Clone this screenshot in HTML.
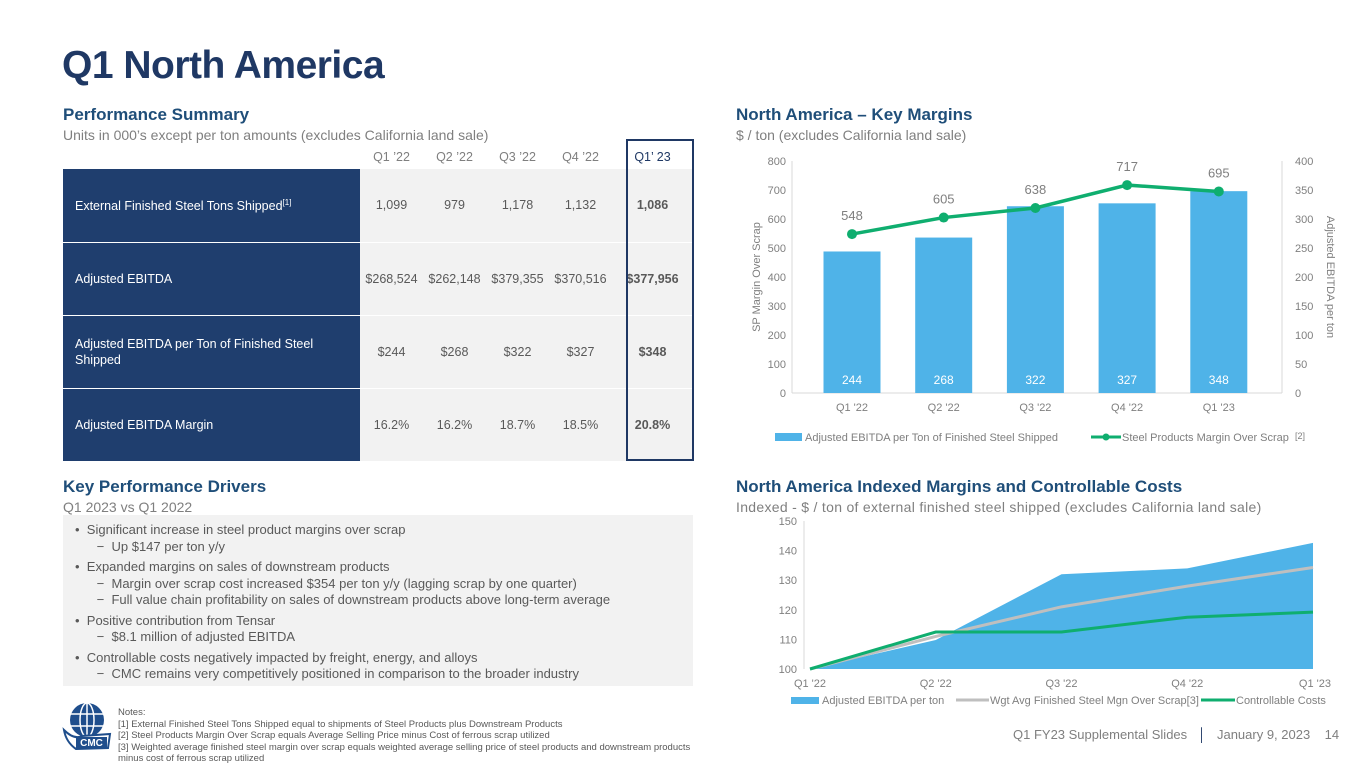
<!DOCTYPE html>
<html><head><meta charset="utf-8"><style>
*{margin:0;padding:0;box-sizing:border-box}
body{width:1365px;height:768px;background:#fff;font-family:"Liberation Sans",sans-serif;position:relative;overflow:hidden;color:#595959}
.abs{position:absolute}
h1{position:absolute;left:62px;top:44px;font-size:39px;font-weight:bold;color:#1f3864;letter-spacing:-0.5px}
.h2{position:absolute;font-size:17px;font-weight:bold;color:#1f4e79}
.sub{position:absolute;font-size:14px;color:#7f7f7f}
table{position:absolute;left:63px;top:145px;border-collapse:collapse;font-size:12.5px;table-layout:fixed;width:630px}
td,th{text-align:center;padding:0}
th{font-weight:normal;color:#7f7f7f;height:24px}
td.lab{background:#1f3e6e;color:#fff;text-align:left;padding-left:12px}
tr.r td{height:73px;border-bottom:1px solid #fff}
td.v{background:#f2f2f2;color:#595959}
td.b{font-weight:bold}
.box{position:absolute;left:63px;top:515px;width:630px;height:171px;background:#f2f2f2;font-size:13px;color:#595959;padding:7px 0 0 12px;line-height:16.5px}
.notes{position:absolute;left:118px;top:707px;font-size:9.5px;color:#595959;line-height:11.5px}
</style></head><body>
<h1>Q1 North America</h1>
<div class="h2" style="left:63px;top:105px">Performance Summary</div>
<div class="sub" style="left:63px;top:127px">Units in 000’s except per ton amounts (excludes California land sale)</div>
<table>
<colgroup><col style="width:297px"><col style="width:63px"><col style="width:63px"><col style="width:63px"><col style="width:63px"><col style="width:81px"></colgroup>
<tr><th></th><th>Q1 ’22</th><th>Q2 ’22</th><th>Q3 ’22</th><th>Q4 ’22</th><th style="color:#1f3864">Q1’ 23</th></tr>
<tr class="r"><td class="lab">External Finished Steel Tons Shipped<sup style="font-size:8px">[1]</sup></td><td class="v">1,099</td><td class="v">979</td><td class="v">1,178</td><td class="v">1,132</td><td class="v b">1,086</td></tr>
<tr class="r"><td class="lab">Adjusted EBITDA</td><td class="v">$268,524</td><td class="v">$262,148</td><td class="v">$379,355</td><td class="v">$370,516</td><td class="v b">$377,956</td></tr>
<tr class="r"><td class="lab" style="line-height:16px">Adjusted EBITDA per Ton of Finished Steel<br>Shipped</td><td class="v">$244</td><td class="v">$268</td><td class="v">$322</td><td class="v">$327</td><td class="v b">$348</td></tr>
<tr class="r"><td class="lab">Adjusted EBITDA Margin</td><td class="v">16.2%</td><td class="v">16.2%</td><td class="v">18.7%</td><td class="v">18.5%</td><td class="v b">20.8%</td></tr>
</table>
<div class="abs" style="left:626px;top:139px;width:68px;height:322px;border:2px solid #1f3864"></div>

<div class="h2" style="left:63px;top:477px">Key Performance Drivers</div>
<div class="sub" style="left:63px;top:499px">Q1 2023 vs Q1 2022</div>
<div class="box">
• &nbsp;Significant increase in steel product margins over scrap<br>
&nbsp;&nbsp;&nbsp;&nbsp;&nbsp;&nbsp;−&nbsp; Up $147 per ton y/y<br>
<div style="height:4px"></div>• &nbsp;Expanded margins on sales of downstream products<br>
&nbsp;&nbsp;&nbsp;&nbsp;&nbsp;&nbsp;−&nbsp; Margin over scrap cost increased $354 per ton y/y (lagging scrap by one quarter)<br>
&nbsp;&nbsp;&nbsp;&nbsp;&nbsp;&nbsp;−&nbsp; Full value chain profitability on sales of downstream products above long-term average<br>
<div style="height:4px"></div>• &nbsp;Positive contribution from Tensar<br>
&nbsp;&nbsp;&nbsp;&nbsp;&nbsp;&nbsp;−&nbsp; $8.1 million of adjusted EBITDA<br>
<div style="height:4px"></div>• &nbsp;Controllable costs negatively impacted by freight, energy, and alloys<br>
&nbsp;&nbsp;&nbsp;&nbsp;&nbsp;&nbsp;−&nbsp; CMC remains very competitively positioned in comparison to the broader industry
</div>

<div class="h2" style="left:736px;top:105px">North America – Key Margins</div>
<div class="sub" style="left:736px;top:127px">$ / ton (excludes California land sale)</div>
<div class="h2" style="left:736px;top:477px">North America Indexed Margins and Controllable Costs</div>
<div class="sub" style="left:736px;top:499px;letter-spacing:0.3px">Indexed - $ / ton of external finished steel shipped (excludes California land sale)</div>

<svg class="abs" style="left:0;top:0" width="1365" height="768" id="charts" font-family="Liberation Sans, sans-serif">
<g id="c1"></g><g id="c2"></g>
</svg>

<svg class="abs" style="left:62px;top:700px" width="52" height="50">
<circle cx="25" cy="20" r="17" fill="#1f4e8c"/>
<g stroke="#fff" stroke-width="1.5" fill="none"><ellipse cx="25" cy="20" rx="7" ry="17"/><line x1="25" y1="3" x2="25" y2="37"/><line x1="8" y1="14" x2="42" y2="14"/><line x1="8" y1="26" x2="42" y2="26"/></g>
<path d="M2 30 Q12 40 20 36 L48 34 L46 48 L14 49 Q4 42 2 30Z" fill="#fff" stroke="#1f4e8c" stroke-width="2"/>
<rect x="14" y="37" width="31" height="11" fill="#1f4e8c"/>
<text x="29.5" y="46" font-size="10" font-weight="bold" fill="#fff" text-anchor="middle">CMC</text>
</svg>
<div class="notes">Notes:<br>[1] External Finished Steel Tons Shipped equal to shipments of Steel Products plus Downstream Products<br>[2] Steel Products Margin Over Scrap equals Average Selling Price minus Cost of ferrous scrap utilized<br>[3] Weighted average finished steel margin over scrap equals weighted average selling price of steel products and downstream products<br>minus cost of ferrous scrap utilized</div>
<div class="abs" style="left:1013px;top:727px;font-size:13px;color:#7f7f7f">Q1 FY23 Supplemental Slides &nbsp;&nbsp;<span style="color:#1f3864">│</span>&nbsp;&nbsp; January 9, 2023 &nbsp;&nbsp;&nbsp;14</div>

<script>
const NS='http://www.w3.org/2000/svg';
const cats1=["Q1 '22","Q2 '22","Q3 '22","Q4 '22","Q1 '23"];
const ebitdaPerTon=[244,268,322,327,348];
const spMargin=[548,605,638,717,695];
const leftTicks=[0,100,200,300,400,500,600,700,800];
const rightTicks=[0,50,100,150,200,250,300,350,400];
const cats2=["Q1 '22","Q2 '22","Q3 '22","Q4 '22","Q1 '23"];
const idxEbitda=[100,109.8,132,134,142.6];
const idxWgt=[100,111,121,128,134.3];
const idxCtrl=[100,112.5,112.5,117.5,119.2];
const ticks2=[100,110,120,130,140,150];

function mk(p,t,a,txt){const e=document.createElementNS(NS,t);for(const k in a)e.setAttribute(k,a[k]);if(txt!==undefined)e.textContent=txt;p.appendChild(e);return e;}

// chart 1
const g1=document.getElementById('c1');
const x1=i=>852+i*91.7, yL=v=>393-v*(232/800), yR=v=>393-v*(232/400);
leftTicks.forEach(v=>{const t=mk(g1,'text',{x:786,y:yL(v)+4,'font-size':11,fill:'#7f7f7f','text-anchor':'end'},v);
});
rightTicks.forEach(v=>{const t=mk(g1,'text',{x:1295,y:yR(v)+4,'font-size':11,fill:'#7f7f7f'},v);
});
mk(g1,'line',{x1:792,y1:161,x2:792,y2:393,stroke:'#d9d9d9'});
mk(g1,'line',{x1:1282,y1:161,x2:1282,y2:393,stroke:'#d9d9d9'});
mk(g1,'line',{x1:792,y1:393,x2:1282,y2:393,stroke:'#d9d9d9'});
const yt=mk(g1,'text',{transform:'translate(760,277) rotate(-90)','font-size':11,fill:'#7f7f7f','text-anchor':'middle'},'SP Margin Over Scrap');

const yt2=mk(g1,'text',{transform:'translate(1327,277) rotate(90)','font-size':11,fill:'#7f7f7f','text-anchor':'middle'},'Adjusted EBITDA per ton');

ebitdaPerTon.forEach((v,i)=>{
 const r=mk(g1,'rect',{x:x1(i)-28.5,y:yR(v),width:57,height:yR(0)-yR(v),fill:'#4fb3e8'});
 
 mk(g1,'text',{x:x1(i),y:384,'font-size':12,fill:'#fff','text-anchor':'middle'},v);
 const c=mk(g1,'text',{x:x1(i),y:411,'font-size':11,fill:'#7f7f7f','text-anchor':'middle'},cats1[i]);
 
});
const pl=mk(g1,'polyline',{points:spMargin.map((v,i)=>x1(i)+','+yL(v)).join(' '),fill:'none',stroke:'#0fae6f','stroke-width':3.5});

spMargin.forEach((v,i)=>{
 const c=mk(g1,'circle',{cx:x1(i),cy:yL(v),r:5,fill:'#0fae6f'});
 
 mk(g1,'text',{x:x1(i),y:yL(v)-14,'font-size':13,fill:'#7f7f7f','text-anchor':'middle'},v);
});
const lg1=mk(g1,'g',{});
mk(lg1,'rect',{x:775,y:433,width:27,height:8,fill:'#4fb3e8'});
mk(lg1,'text',{x:805,y:441,'font-size':11,fill:'#7f7f7f'},'Adjusted EBITDA per Ton of Finished Steel Shipped');
mk(lg1,'line',{x1:1091,y1:437,x2:1121,y2:437,stroke:'#0fae6f','stroke-width':3});
mk(lg1,'circle',{cx:1106,cy:437,r:3.5,fill:'#0fae6f'});
mk(lg1,'text',{x:1122,y:441,'font-size':11,fill:'#7f7f7f'},'Steel Products Margin Over Scrap');
mk(lg1,'text',{x:1295,y:439,'font-size':9,fill:'#7f7f7f'},'[2]');

// chart 2
const g2=document.getElementById('c2');
const x2=i=>810+i*125.75, y2=v=>669-(v-100)*(148/50);
ticks2.forEach(v=>{const t=mk(g2,'text',{x:797,y:y2(v)+4,'font-size':11,fill:'#7f7f7f','text-anchor':'end'},v);
});
mk(g2,'line',{x1:804,y1:521,x2:804,y2:669,stroke:'#d9d9d9'});
const area=mk(g2,'polygon',{points:idxEbitda.map((v,i)=>x2(i)+','+y2(v)).join(' ')+' '+x2(4)+','+y2(100)+' '+x2(0)+','+y2(100),fill:'#4fb3e8'});

const lw=mk(g2,'polyline',{points:idxWgt.map((v,i)=>x2(i)+','+y2(v)).join(' '),fill:'none',stroke:'#bfbfbf','stroke-width':3});

const lc=mk(g2,'polyline',{points:idxCtrl.map((v,i)=>x2(i)+','+y2(v)).join(' '),fill:'none',stroke:'#0fae6f','stroke-width':3});

cats2.forEach((c,i)=>{const t=mk(g2,'text',{x:x2(i),y:687,'font-size':11,fill:'#7f7f7f','text-anchor':i==4?'end':'middle'},c);
if(i==4)t.setAttribute('x',x2(i)+18);
});
const lg2=mk(g2,'g',{});
mk(lg2,'rect',{x:791,y:697,width:28,height:7,fill:'#4fb3e8'});
mk(lg2,'text',{x:822,y:704,'font-size':11,fill:'#7f7f7f'},'Adjusted EBITDA per ton');
mk(lg2,'line',{x1:956,y1:700,x2:989,y2:700,stroke:'#bfbfbf','stroke-width':3});
mk(lg2,'text',{x:990,y:704,'font-size':11,fill:'#7f7f7f'},'Wgt Avg Finished Steel Mgn Over Scrap[3]');
mk(lg2,'line',{x1:1201,y1:700,x2:1235,y2:700,stroke:'#0fae6f','stroke-width':3});
mk(lg2,'text',{x:1236,y:704,'font-size':11,fill:'#7f7f7f'},'Controllable Costs');
</script>
</body></html>
